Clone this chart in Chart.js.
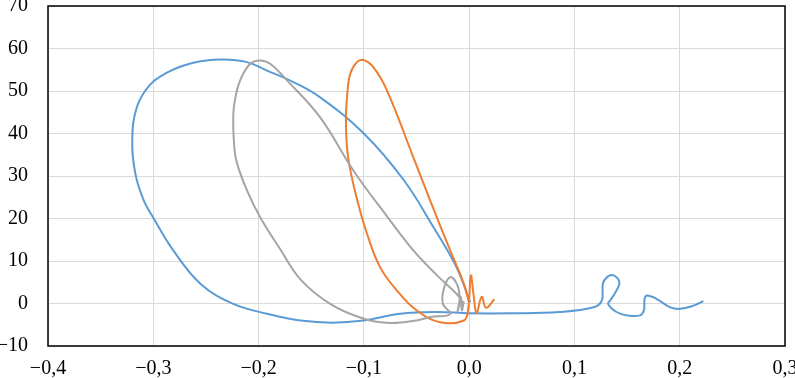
<!DOCTYPE html>
<html>
<head>
<meta charset="utf-8">
<script src="https://cdn.jsdelivr.net/npm/chart.js@4/dist/chart.umd.min.js"></script>
<style>
    html, body { margin: 0; padding: 0; background: #fff; }
    #wrap { width: 795px; height: 378px; }
</style>
</head>
<body>
<div id="wrap"><canvas id="chart"></canvas></div>
<script>
    // values
    const blueX = [0.001, -0.012, -0.034, -0.062, -0.100, -0.1415, -0.167, -0.192, -0.211, -0.2365, -0.255, -0.271, -0.287, -0.303, -0.3156, -0.320, -0.317, -0.309, -0.300, -0.281, -0.255, -0.224, -0.192, -0.160, -0.130, -0.1004, -0.0655, -0.031, 0.0, 0.04, 0.086, 0.118, 0.126, 0.127, 0.131, 0.137, 0.1427, 0.140, 0.134, 0.132, 0.140, 0.150, 0.1624, 0.166, 0.1666, 0.169, 0.178, 0.191, 0.2004, 0.213, 0.2225];
    const blueY = [0.3, 8.5, 18.0, 29.0, 40.0, 48.5, 52.1, 54.8, 56.8, 57.4, 57.0, 56.0, 54.3, 51.5, 46.2, 38.3, 30.5, 24.2, 20.2, 12.5, 4.6, -0.1, -2.4, -4.0, -4.5, -4.0, -2.4, -2.0, -2.3, -2.3, -2.0, -0.9, 0.7, 4.6, 6.2, 6.6, 5.0, 3.1, 0.7, -0.1, -2.0, -2.8, -2.8, -1.6, 1.1, 1.9, 1.1, -0.9, -1.25, -0.5, 0.55];

    const grayX = [-0.005, -0.012, -0.030, -0.053, -0.078, -0.110, -0.1415, -0.173, -0.189, -0.1985, -0.208, -0.2175, -0.222, -0.224, -0.2235, -0.221, -0.211, -0.1985, -0.180, -0.160, -0.132, -0.100, -0.075, -0.050, -0.037, -0.018, -0.025, -0.024, -0.018, -0.011, -0.009, -0.011, -0.008, -0.007, -0.005];
    const grayY = [0.0, 2.3, 6.5, 12.5, 20.5, 31.3, 43.8, 52.5, 56.4, 57.2, 56.4, 52.5, 48.5, 44.6, 38.4, 33.5, 26.6, 20.3, 13.0, 5.6, -0.1, -3.6, -4.6, -4.0, -3.2, -2.5, 0.0, 3.5, 6.2, 4.2, 0.7, -1.8, 1.6, -1.6, 0.5];

    const orangeX = [0.0, -0.005, -0.018, -0.037, -0.053, -0.078, -0.091, -0.1003, -0.1066, -0.113, -0.116, -0.117, -0.115, -0.107, -0.097, -0.0845, -0.0687, -0.050, -0.0275, -0.005, -0.001, 0.0016, 0.004, 0.007, 0.012, 0.016, 0.024];
    const orangeY = [0.0, 4.6, 12.5, 24.2, 34.4, 50.1, 55.6, 57.3, 56.8, 54.0, 48.5, 42.3, 34.5, 25.0, 16.4, 8.5, 3.1, -1.6, -4.4, -4.0, -1.5, 6.6, 2.5, -2.2, 1.6, -1.0, 1.0];

    const xTicks = [-0.4, -0.3, -0.2, -0.1, 0.0, 0.1, 0.2, 0.3];
    const yTicks = [-10, 0, 10, 20, 30, 40, 50, 60, 70];

    const toPoints = (xs, ys) => xs.map((x, i) => ({ x: x, y: ys[i] }));

    function fmt(v, digits) {
        if (Math.abs(v) < 1e-9) v = 0;
        return v.toFixed(digits).replace('.', ',').replace('-', '\u2212');
    }

    const frame = {
        id: 'frame',
        beforeDatasetsDraw(chart) {
            const a = chart.chartArea;
            const ctx = chart.ctx;
            ctx.save();
            ctx.strokeStyle = '#000';
            ctx.lineWidth = 1.5;
            ctx.strokeRect(a.left, a.top, a.right - a.left, a.bottom - a.top);
            ctx.restore();
        }
    };

    const serif = { family: '"Liberation Serif", "Times New Roman", serif', size: 20 };

    const line = (data, color) => ({
        data: data,
        borderColor: color,
        backgroundColor: color,
        borderWidth: 2,
        showLine: true,
        pointRadius: 0,
        tension: 0.4,
        fill: false
    });

    new Chart(document.getElementById('chart').getContext('2d'), {
        type: 'scatter',
        data: {
            datasets: [
                line(toPoints(grayX, grayY), '#a5a5a5'),
                line(toPoints(orangeX, orangeY), '#ed7d31'),
                line(toPoints(blueX, blueY), '#5b9bd5')
            ]
        },
        options: {
            responsive: true,
            maintainAspectRatio: false,
            animation: false,
            layout: { padding: { top: 6, right: 10, left: 0, bottom: 0 } },
            plugins: {
                legend: { display: false },
                tooltip: { enabled: false }
            },
            scales: {
                x: {
                    type: 'linear',
                    min: xTicks[0],
                    max: xTicks[xTicks.length - 1],
                    afterBuildTicks: scale => { scale.ticks = xTicks.map(v => ({ value: v })); },
                    afterFit: scale => {
                        scale.height = 32;
                        scale.paddingLeft = 0;
                        scale.paddingRight = 0;
                    },
                    grid: { color: '#d9d9d9', lineWidth: 1, drawTicks: false },
                    border: { display: false },
                    ticks: {
                        color: '#000',
                        font: serif,
                        padding: 11,
                        maxRotation: 0,
                        callback: v => fmt(v, 1)
                    }
                },
                y: {
                    type: 'linear',
                    min: yTicks[0],
                    max: yTicks[yTicks.length - 1],
                    afterBuildTicks: scale => { scale.ticks = yTicks.map(v => ({ value: v })); },
                    afterFit: scale => {
                        scale.width = 48;
                        scale.paddingTop = 0;
                        scale.paddingBottom = 0;
                    },
                    grid: { color: '#d9d9d9', lineWidth: 1, drawTicks: false },
                    border: { display: false },
                    ticks: {
                        color: '#000',
                        font: serif,
                        padding: 20,
                        callback: v => fmt(v, 0)
                    }
                }
            }
        },
        plugins: [frame]
    });
</script>
</body>
</html>
